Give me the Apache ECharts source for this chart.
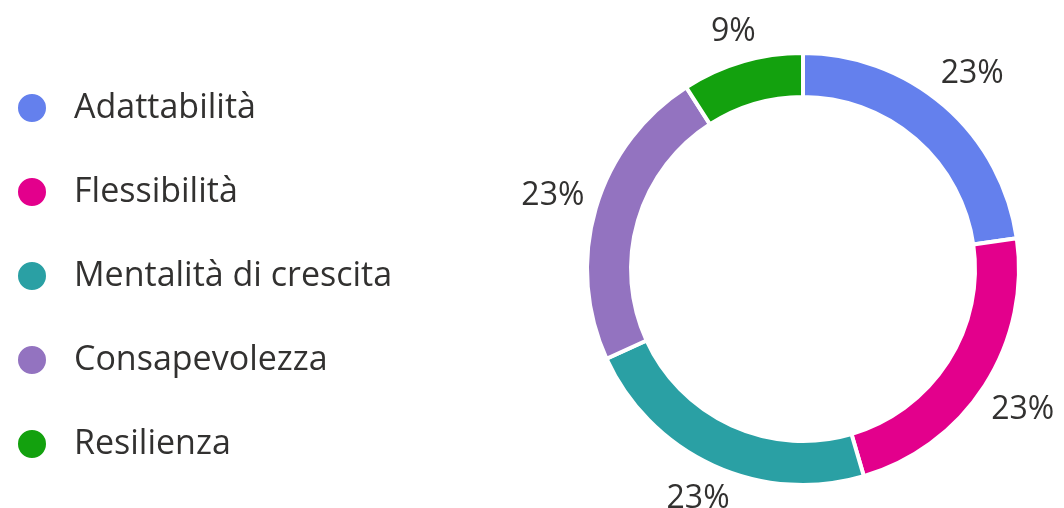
<!DOCTYPE html>
<html>
<head>
<meta charset="utf-8">
<script src="https://cdn.jsdelivr.net/npm/echarts@6/dist/echarts.min.js"></script>
<style>
  html, body { margin: 0; padding: 0; background: #fff; }
  #main { width: 1064px; height: 508px; }
</style>
</head>
<body>
<div id="main"></div>
<script>
// dati del grafico
var categories = ['Adattabilità', 'Flessibilità', 'Mentalità di crescita', 'Consapevolezza', 'Resilienza'];
var counts = [5, 5, 5, 5, 2];
var colors = ['#6480ED', '#E3008C', '#2AA0A4', '#9373C0', '#13A10E'];

var myChart = echarts.init(document.getElementById('main'));

var pieData = categories.map(function (name, i) {
  return { name: name, value: counts[i], itemStyle: { color: colors[i] } };
});

var textColor = '#323130';
var fontFamily = '"Open Sans", "Noto Sans", sans-serif';
var cx = 803, cy = 269;
var labelClear = 226; // distanza minima tra centro e riquadro etichetta

// sposta l'etichetta verso l'esterno finché il suo riquadro non tocca il cerchio
function pushOut(p) {
  var r = p.labelRect;
  var mx = r.x + r.width / 2 - cx, my = r.y + r.height / 2 - cy;
  var len = Math.sqrt(mx * mx + my * my);
  var ux = mx / len, uy = my / len;
  var hw = r.width / 2, hh = r.height / 2;
  var lo = 0, hi = 600;
  for (var k = 0; k < 40; k++) {
    var R = (lo + hi) / 2;
    var dx = Math.max(0, Math.abs(R * ux) - hw);
    var dy = Math.max(0, Math.abs(R * uy) - hh);
    if (Math.sqrt(dx * dx + dy * dy) < labelClear) lo = R; else hi = R;
  }
  return { x: cx + hi * ux, y: cy + hi * uy, align: 'center', verticalAlign: 'middle' };
}

var option = {
  animation: false,
  legend: {
    orient: 'vertical',
    left: 16,
    top: 91,
    padding: 0,
    icon: 'circle',
    itemWidth: 30,
    itemHeight: 30,
    itemGap: 50,
    data: categories,
    textStyle: {
      color: textColor,
      fontSize: 34,
      fontFamily: fontFamily,
      lineHeight: 30,
      padding: [0, 0, 0, 22]
    }
  },
  series: [
    {
      name: 'risposte',
      type: 'pie',
      center: [cx, cy],
      radius: [172, 216],
      startAngle: 90,
      itemStyle: { borderColor: '#fff', borderWidth: 4 },
      label: {
        show: true,
        position: 'inside',
        color: textColor,
        fontSize: 32,
        fontFamily: fontFamily,
        formatter: function (p) { return Math.round(p.percent) + '%'; }
      },
      labelLayout: pushOut,
      labelLine: { show: false },
      emphasis: { disabled: true },
      data: pieData
    }
  ]
};

myChart.setOption(option);
</script>
</body>
</html>
